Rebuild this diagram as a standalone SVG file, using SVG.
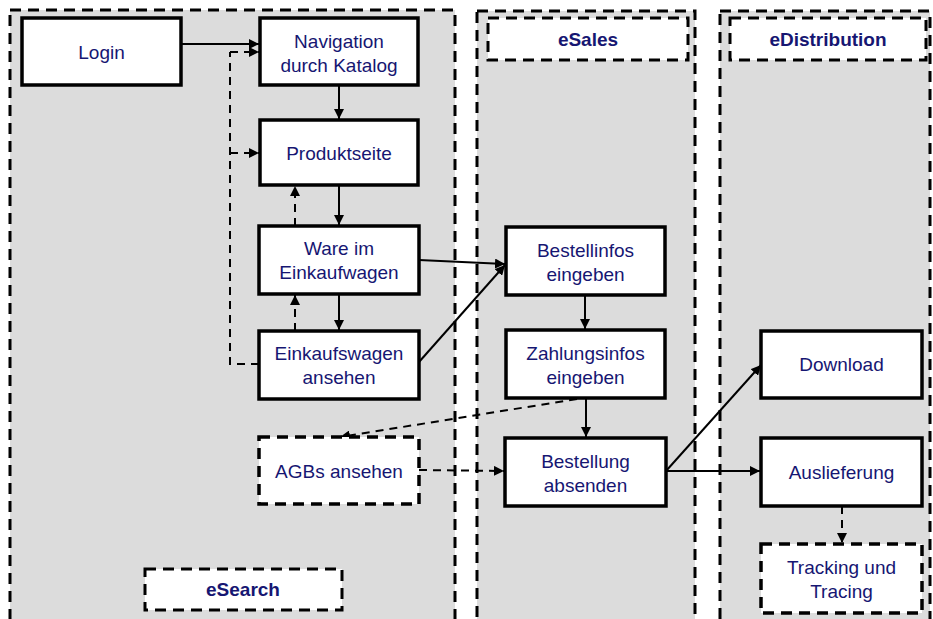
<svg xmlns="http://www.w3.org/2000/svg" width="933" height="619" viewBox="0 0 933 619">
  <defs>
    <marker id="arr" viewBox="0 0 10 10" refX="10" refY="5" markerWidth="10" markerHeight="10" markerUnits="userSpaceOnUse" orient="auto">
      <path d="M0,0 L10,5 L0,10 z" fill="#000"/>
    </marker>
  </defs>
  <style>
    .lane { fill: #dcdcdc; stroke: #000; stroke-width: 3; stroke-dasharray: 11 7; }
    .tag { fill: #fff; stroke: #000; stroke-width: 3; stroke-dasharray: 11 7; }
    .box { fill: #fff; stroke: #000; stroke-width: 3.5; }
    .dbox { fill: #fff; stroke: #000; stroke-width: 3.5; stroke-dasharray: 11 7; }
    .t { font-family: "Liberation Sans", Arial, sans-serif; font-size: 19px; fill: #161672; text-anchor: middle; }
    .tb { font-family: "Liberation Sans", Arial, sans-serif; font-size: 19px; font-weight: bold; fill: #161672; text-anchor: middle; }
    .c { fill: none; stroke: #000; stroke-width: 2; marker-end: url(#arr); }
    .cd { fill: none; stroke: #000; stroke-width: 2; stroke-dasharray: 8 6; marker-end: url(#arr); }
    .cdn { fill: none; stroke: #000; stroke-width: 2; stroke-dasharray: 8 6; }
  </style>

  <!-- swimlanes -->
  <g id="lanes">
    <rect class="lane" x="10" y="10" width="445" height="625"/>
    <rect class="lane" x="477" y="11" width="218" height="625"/>
    <rect class="lane" x="720" y="11" width="210" height="625"/>
  </g>

  <!-- lane titles -->
  <g id="lane-esales">
    <rect class="tag" x="488" y="18" width="200" height="42"/>
    <text class="tb" x="588" y="46">eSales</text>
  </g>
  <g id="lane-edistribution">
    <rect class="tag" x="730" y="18" width="196" height="42"/>
    <text class="tb" x="828" y="46">eDistribution</text>
  </g>
  <g id="lane-esearch">
    <rect class="tag" x="145" y="569" width="197" height="41"/>
    <text class="tb" x="243" y="596">eSearch</text>
  </g>

  <!-- connectors -->
  <g id="connectors">
    <path class="c" d="M181,44 L259,44"/>
    <path class="cdn" d="M259,364 L230,364 L230,52"/>
    <path class="cd" d="M230,52 L259,52"/>
    <path class="cd" d="M230,153 L259,153"/>
    <path class="c" d="M339,85 L339,119"/>
    <path class="c" d="M339,185 L339,225"/>
    <path class="cd" d="M295,226 L295,186"/>
    <path class="c" d="M339,294 L339,330"/>
    <path class="cd" d="M295,331 L295,295"/>
    <path class="c" d="M419,260 L505,264"/>
    <path class="c" d="M419,362 L505,265"/>
    <path class="c" d="M585,295 L585,329"/>
    <path class="c" d="M586,398 L586,437"/>
    <path class="cd" d="M577,399 L340,437"/>
    <path class="cd" d="M419,470 L504,471"/>
    <path class="c" d="M666,471 L761,365"/>
    <path class="c" d="M666,471 L760,471"/>
    <path class="cd" d="M842,506 L842,543"/>
  </g>

  <!-- eSearch nodes -->
  <g id="login">
    <rect class="box" x="22" y="18" width="159" height="67"/>
    <text class="t" x="101.5" y="59">Login</text>
  </g>
  <g id="navigation">
    <rect class="box" x="260" y="18" width="158" height="67"/>
    <text class="t" x="339" y="48">Navigation</text>
    <text class="t" x="339" y="72">durch Katalog</text>
  </g>
  <g id="produktseite">
    <rect class="box" x="260" y="120" width="158" height="65"/>
    <text class="t" x="339" y="160">Produktseite</text>
  </g>
  <g id="ware">
    <rect class="box" x="259" y="226" width="160" height="68"/>
    <text class="t" x="339" y="255">Ware im</text>
    <text class="t" x="339" y="279">Einkaufwagen</text>
  </g>
  <g id="einkaufswagen">
    <rect class="box" x="259" y="331" width="160" height="68"/>
    <text class="t" x="339" y="360">Einkaufswagen</text>
    <text class="t" x="339" y="384">ansehen</text>
  </g>
  <g id="agbs">
    <rect class="dbox" x="259" y="437" width="160" height="67"/>
    <text class="t" x="339" y="478">AGBs ansehen</text>
  </g>

  <!-- eSales nodes -->
  <g id="bestellinfos">
    <rect class="box" x="506" y="227" width="159" height="68"/>
    <text class="t" x="585.5" y="257">Bestellinfos</text>
    <text class="t" x="585.5" y="281">eingeben</text>
  </g>
  <g id="zahlungsinfos">
    <rect class="box" x="506" y="330" width="159" height="68"/>
    <text class="t" x="585.5" y="360">Zahlungsinfos</text>
    <text class="t" x="585.5" y="384">eingeben</text>
  </g>
  <g id="bestellung">
    <rect class="box" x="505" y="438" width="161" height="68"/>
    <text class="t" x="585.5" y="468">Bestellung</text>
    <text class="t" x="585.5" y="492">absenden</text>
  </g>

  <!-- eDistribution nodes -->
  <g id="download">
    <rect class="box" x="761" y="331" width="161" height="67"/>
    <text class="t" x="841.5" y="371">Download</text>
  </g>
  <g id="auslieferung">
    <rect class="box" x="761" y="438" width="161" height="68"/>
    <text class="t" x="841.5" y="479">Auslieferung</text>
  </g>
  <g id="tracking">
    <rect class="dbox" x="761" y="544" width="161" height="69"/>
    <text class="t" x="841.5" y="574">Tracking und</text>
    <text class="t" x="841.5" y="598">Tracing</text>
  </g>
</svg>
